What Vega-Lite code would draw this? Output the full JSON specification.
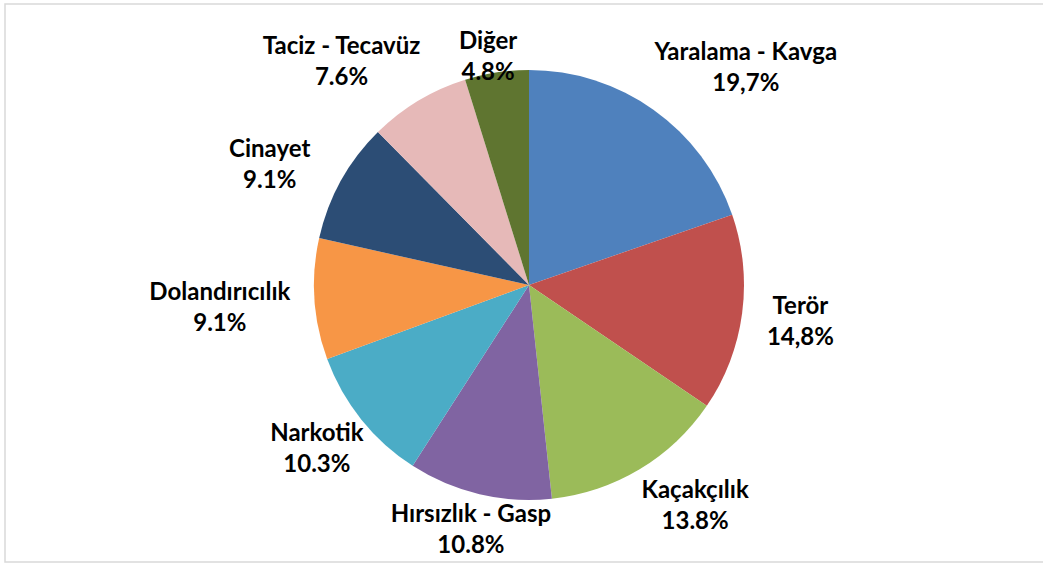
{
  "$schema": "https://vega.github.io/schema/vega-lite/v6.json",
  "width": 1042,
  "height": 558,
  "autosize": "none",
  "padding": {"left": 5, "top": 4, "right": 0, "bottom": 3},
  "background": "white",
  "config": {"view": {"stroke": null}},
  "data": {
    "values": [
      {"order": 1, "category": "Yaralama - Kavga", "value": 19.7, "label": "Yaralama - Kavga\n19,7%"},
      {"order": 2, "category": "Terör", "value": 14.8, "label": "Terör\n14,8%"},
      {"order": 3, "category": "Kaçakçılık", "value": 13.8, "label": "Kaçakçılık\n13.8%"},
      {"order": 4, "category": "Hırsızlık - Gasp", "value": 10.8, "label": "Hırsızlık - Gasp\n10.8%"},
      {"order": 5, "category": "Narkotik", "value": 10.3, "label": "Narkotik\n10.3%"},
      {"order": 6, "category": "Dolandırıcılık", "value": 9.1, "label": "Dolandırıcılık\n9.1%"},
      {"order": 7, "category": "Cinayet", "value": 9.1, "label": "Cinayet\n9.1%"},
      {"order": 8, "category": "Taciz - Tecavüz", "value": 7.6, "label": "Taciz - Tecavüz\n7.6%"},
      {"order": 9, "category": "Diğer", "value": 4.8, "label": "Diğer\n4.8%"}
    ]
  },
  "layer": [
    {
      "data": {"values": [{"frame": 1}]},
      "mark": {"type": "rect", "fill": null, "stroke": "#D9D9D9", "strokeWidth": 1.5},
      "encoding": {}
    },
    {
      "mark": {"type": "arc", "outerRadius": 215, "xOffset": 3, "yOffset": 2},
      "encoding": {
        "theta": {"field": "value", "type": "quantitative", "stack": true},
        "order": {"field": "order", "type": "quantitative"},
        "color": {
          "field": "category",
          "type": "nominal",
          "sort": {"field": "order"},
          "scale": {
            "domain": ["Yaralama - Kavga", "Terör", "Kaçakçılık", "Hırsızlık - Gasp", "Narkotik", "Dolandırıcılık", "Cinayet", "Taciz - Tecavüz", "Diğer"],
            "range": ["#4F81BD", "#C0504D", "#9BBB59", "#8064A2", "#4BACC6", "#F79646", "#2C4D75", "#E6B9B8", "#5F7530"]
          },
          "legend": null
        }
      }
    },
    {
      "mark": {
        "type": "text",
        "radius": {"expr": "232 + abs(sin(PI * (datum.value_start + datum.value_end) / 100)) * (15 + 4.5 * length(datum.category))"},
        "dx": {"expr": "(sin(PI * (datum.value_start + datum.value_end) / 100) > 0 || cos(PI * (datum.value_start + datum.value_end) / 100) > 0) ? 7 * length(datum.category) * sin(PI * (datum.value_start + datum.value_end) / 100) * abs(cos(PI * (datum.value_start + datum.value_end) / 100)) : 0"},
        "dy": {"expr": "20 * cos(PI * (datum.value_start + datum.value_end) / 100) * abs(sin(PI * (datum.value_start + datum.value_end) / 100))"},
        "xOffset": 3,
        "yOffset": -9,
        "font": "Lato",
        "fontWeight": "bold",
        "fontSize": 24,
        "lineBreak": "\n",
        "lineHeight": 31,
        "align": "center",
        "baseline": "middle",
        "color": "black"
      },
      "encoding": {
        "theta": {"field": "value", "type": "quantitative", "stack": true},
        "order": {"field": "order", "type": "quantitative"},
        "text": {"field": "label", "type": "nominal"}
      }
    }
  ]
}
